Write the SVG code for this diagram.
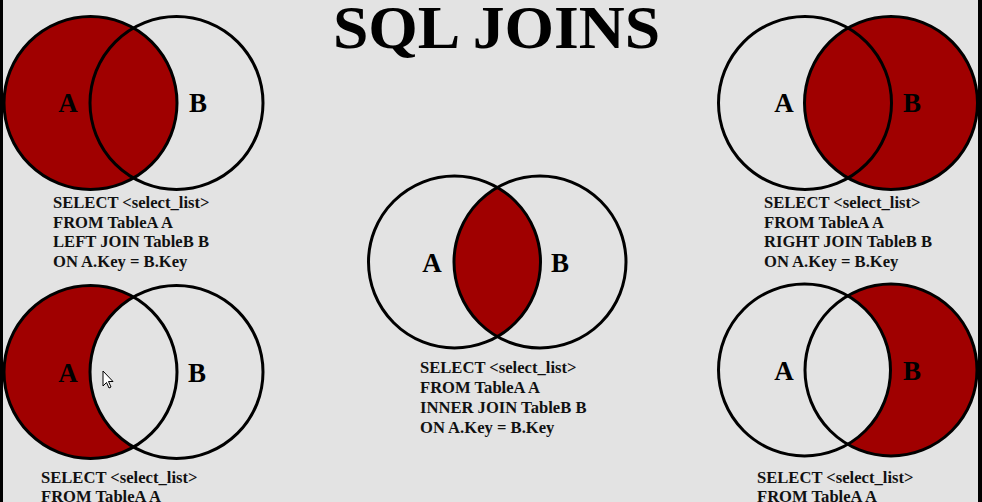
<svg xmlns="http://www.w3.org/2000/svg" width="982" height="502" viewBox="0 0 982 502">
<style>
.bg{fill:#e3e3e3}
.ring{fill:none;stroke:#000;stroke-width:3}
.red{fill:#a00000}
.lbl{font-family:"Liberation Serif",serif;font-weight:bold;font-size:27px;fill:#000;text-anchor:middle}
.sql{font-family:"Liberation Serif",serif;font-weight:bold;font-size:16.6px;fill:#111}
.title{font-family:"Liberation Serif",serif;font-weight:bold;font-size:62px;fill:#000}
</style>
<defs>
<clipPath id="clipMidB"><circle cx="540" cy="262" r="86"/></clipPath>
</defs>
<rect class="bg" x="0" y="0" width="982" height="502"/>
<rect x="0" y="0" width="3" height="502" fill="#000"/>
<rect x="978" y="0" width="4" height="502" fill="#000"/>
<text class="title" x="333" y="48" textLength="327" lengthAdjust="spacingAndGlyphs">SQL JOINS</text>

<g id="left-join">
<circle class="red" cx="90.5" cy="103" r="86.5"/>
<circle class="ring" cx="90.5" cy="103" r="86.5"/>
<circle class="ring" cx="176.5" cy="103" r="86.5"/>
<text class="lbl" x="68" y="112">A</text>
<text class="lbl" x="198" y="112">B</text>
<text class="sql" x="53" y="208">SELECT &lt;select_list&gt;</text>
<text class="sql" x="53" y="228">FROM TableA A</text>
<text class="sql" x="53" y="247">LEFT JOIN TableB B</text>
<text class="sql" x="53" y="267">ON A.Key = B.Key</text>
</g>

<g id="right-join">
<circle class="red" cx="891" cy="103" r="86.5"/>
<circle class="ring" cx="805" cy="103" r="86.5"/>
<circle class="ring" cx="891" cy="103" r="86.5"/>
<text class="lbl" x="784" y="112">A</text>
<text class="lbl" x="912" y="112">B</text>
<text class="sql" x="764" y="208">SELECT &lt;select_list&gt;</text>
<text class="sql" x="764" y="228">FROM TableA A</text>
<text class="sql" x="764" y="247">RIGHT JOIN TableB B</text>
<text class="sql" x="764" y="267">ON A.Key = B.Key</text>
</g>

<g id="inner-join">
<circle class="red" cx="454.5" cy="262" r="86" clip-path="url(#clipMidB)"/>
<circle class="ring" cx="454.5" cy="262" r="86"/>
<circle class="ring" cx="540" cy="262" r="86"/>
<text class="lbl" x="432" y="272">A</text>
<text class="lbl" x="560" y="272">B</text>
<text class="sql" x="420" y="373">SELECT &lt;select_list&gt;</text>
<text class="sql" x="420" y="393">FROM TableA A</text>
<text class="sql" x="420" y="413">INNER JOIN TableB B</text>
<text class="sql" x="420" y="433">ON A.Key = B.Key</text>
</g>

<g id="left-excluding-join">
<circle class="red" cx="90.5" cy="372" r="86.5"/>
<circle class="bg" cx="176.5" cy="372" r="86.5"/>
<circle class="ring" cx="90.5" cy="372" r="86.5"/>
<circle class="ring" cx="176.5" cy="372" r="86.5"/>
<text class="lbl" x="68" y="382">A</text>
<text class="lbl" x="197" y="382">B</text>
<path d="M103,371 L103,386 L106.5,382.5 L109,388 L111,387 L108.5,381.5 L113,381.5 Z" fill="#fff" stroke="#000" stroke-width="1"/>
<text class="sql" x="41" y="483">SELECT &lt;select_list&gt;</text>
<text class="sql" x="41" y="502">FROM TableA A</text>
</g>

<g id="right-excluding-join">
<circle class="red" cx="891" cy="370" r="86"/>
<circle class="bg" cx="804.5" cy="370" r="86"/>
<circle class="ring" cx="804.5" cy="370" r="86"/>
<circle class="ring" cx="891" cy="370" r="86"/>
<text class="lbl" x="784" y="380">A</text>
<text class="lbl" x="912" y="380">B</text>
<text class="sql" x="757" y="483">SELECT &lt;select_list&gt;</text>
<text class="sql" x="757" y="502">FROM TableA A</text>
</g>
</svg>
